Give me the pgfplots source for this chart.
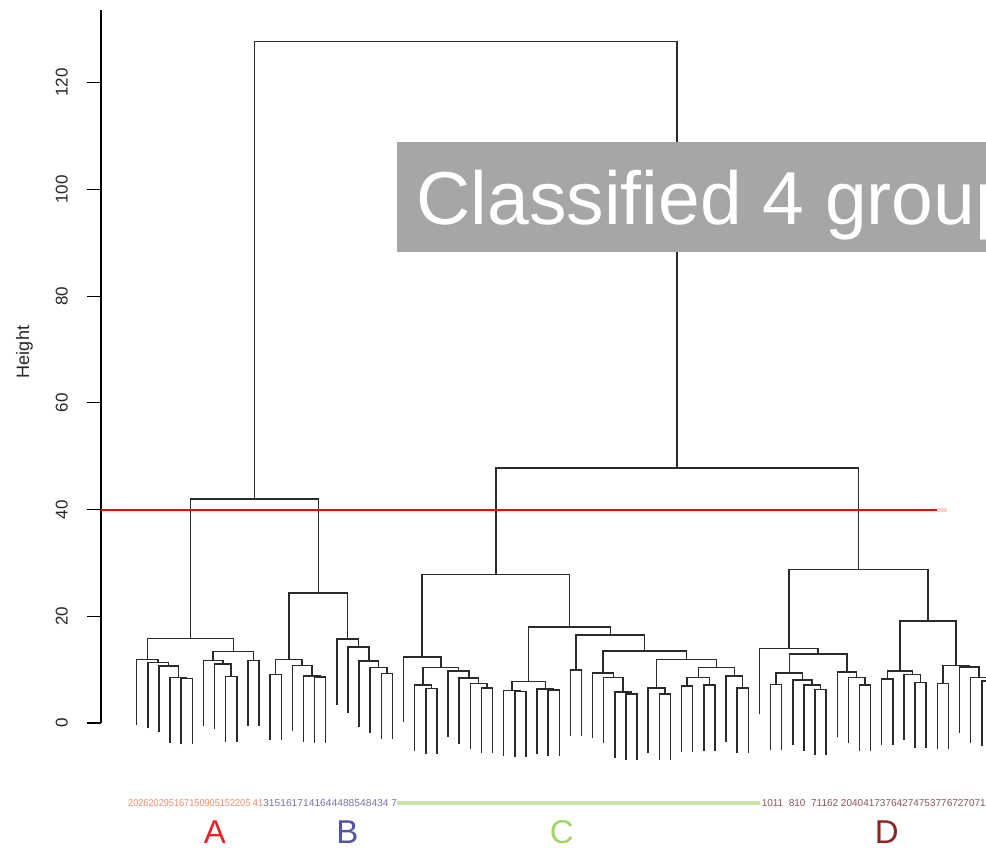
\documentclass[border=0pt]{standalone}
\usepackage{pgfplots}
\pgfplotsset{compat=1.18}
\usepackage{fontspec}
\setmainfont{Liberation Sans}
\definecolor{boxgray}{HTML}{A6A6A6}
\definecolor{dend}{HTML}{2A2A2A}
\definecolor{labA}{HTML}{F28B66}
\definecolor{labB}{HTML}{7A6FA6}
\definecolor{labC}{HTML}{B9DC8E}
\definecolor{labD}{HTML}{8A5555}
\definecolor{grpA}{HTML}{E5242B}
\definecolor{grpB}{HTML}{5552A3}
\definecolor{grpC}{HTML}{A3D36B}
\definecolor{grpD}{HTML}{8E2323}
\begin{document}
\begin{tikzpicture}
\begin{axis}[
  at={(0pt,0pt)}, anchor=origin,
  x=11.12pt, y=5.336pt,
  xmin=-2.21, xmax=77.4, ymin=0, ymax=133.6,
  axis x line=none, axis y line*=left,
  clip=false,
  unbounded coords=jump,
  ytick={0,20,40,60,80,100,120},
  tick align=outside, major tick length=14pt,
  every tick/.style={black, line width=1.2pt},
  axis line style={black, line width=1.4pt},
  /pgf/number format/assume math mode=true,
  yticklabel shift=19pt,
  yticklabel style={rotate=90, anchor=south, inner sep=0pt, font=\fontsize{17}{17}\selectfont, text=black!85},
]
% group A
\addplot[dend, line width=1.5pt] coordinates {
(5,-4.0) (5,8.3) (6,8.3) (6,-4.0) (nan,nan)
(4,-3.8) (4,8.5) (5.5,8.5) (5.5,8.3) (nan,nan)
(3,-1.6) (3,10.7) (4.75,10.7) (4.75,8.5) (nan,nan)
(2,-1.0) (2,11.3) (3.875,11.3) (3.875,10.7) (nan,nan)
(1,-0.4) (1,11.9) (2.9375,11.9) (2.9375,11.3) (nan,nan)
(9,-3.6) (9,8.7) (10,8.7) (10,-3.6) (nan,nan)
(8,-1.2) (8,11.1) (9.5,11.1) (9.5,8.7) (nan,nan)
(7,-0.6) (7,11.7) (8.75,11.7) (8.75,11.1) (nan,nan)
(11,-0.6) (11,11.7) (12,11.7) (12,-0.6) (nan,nan)
(7.875,11.7) (7.875,13.4) (11.5,13.4) (11.5,11.7) (nan,nan)
(1.96875,11.9) (1.96875,15.8) (9.6875,15.8) (9.6875,13.4)
};
% group B
\addplot[dend, line width=1.5pt] coordinates {
(13,-3.2) (13,9.1) (14,9.1) (14,-3.2) (nan,nan)
(17,-3.7) (17,8.6) (18,8.6) (18,-3.7) (nan,nan)
(16,-3.5) (16,8.8) (17.5,8.8) (17.5,8.6) (nan,nan)
(15,-1.5) (15,10.8) (16.75,10.8) (16.75,8.8) (nan,nan)
(13.5,9.1) (13.5,11.9) (15.875,11.9) (15.875,10.8) (nan,nan)
(23,-3.0) (23,9.3) (24,9.3) (24,-3.0) (nan,nan)
(22,-1.9) (22,10.4) (23.5,10.4) (23.5,9.3) (nan,nan)
(21,-0.7) (21,11.6) (22.75,11.6) (22.75,10.4) (nan,nan)
(20,1.9) (20,14.2) (21.875,14.2) (21.875,11.6) (nan,nan)
(19,3.4) (19,15.7) (20.9375,15.7) (20.9375,14.2) (nan,nan)
(14.6875,11.9) (14.6875,24.4) (19.96875,24.4) (19.96875,15.7) (nan,nan)
(5.828125,15.8) (5.828125,42.0) (17.328125,42.0) (17.328125,24.4)
};
% group C
\addplot[dend, line width=1.5pt] coordinates {
(27,-5.8) (27,6.5) (28,6.5) (28,-5.8) (nan,nan)
(26,-5.2) (26,7.1) (27.5,7.1) (27.5,6.5) (nan,nan)
(32,-5.7) (32,6.6) (33,6.6) (33,-5.7) (nan,nan)
(31,-4.9) (31,7.4) (32.5,7.4) (32.5,6.6) (nan,nan)
(30,-3.9) (30,8.4) (31.75,8.4) (31.75,7.4) (nan,nan)
(29,-2.55) (29,9.75) (30.875,9.75) (30.875,8.4) (nan,nan)
(26.75,7.1) (26.75,10.4) (29.9375,10.4) (29.9375,9.75) (nan,nan)
(25,0.1) (25,12.4) (28.34375,12.4) (28.34375,10.4) (nan,nan)
(35,-6.4) (35,5.9) (36,5.9) (36,-6.4) (nan,nan)
(34,-6.2) (34,6.1) (35.5,6.1) (35.5,5.9) (nan,nan)
(38,-6.1) (38,6.2) (39,6.2) (39,-6.1) (nan,nan)
(37,-5.9) (37,6.4) (38.5,6.4) (38.5,6.2) (nan,nan)
(34.75,6.1) (34.75,7.75) (37.75,7.75) (37.75,6.4) (nan,nan)
(40,-2.4) (40,9.9) (41,9.9) (41,-2.4) (nan,nan)
(45,-6.9) (45,5.4) (46,5.4) (46,-6.9) (nan,nan)
(44,-6.5) (44,5.8) (45.5,5.8) (45.5,5.4) (nan,nan)
(43,-3.8) (43,8.5) (44.75,8.5) (44.75,5.8) (nan,nan)
(42,-2.9) (42,9.4) (43.875,9.4) (43.875,8.5) (nan,nan)
(48,-6.9) (48,5.4) (49,5.4) (49,-6.9) (nan,nan)
(47,-5.7) (47,6.6) (48.5,6.6) (48.5,5.4) (nan,nan)
(50,-5.4) (50,6.9) (51,6.9) (51,-5.4) (nan,nan)
(52,-5.2) (52,7.1) (53,7.1) (53,-5.2) (nan,nan)
(50.5,6.9) (50.5,8.5) (52.5,8.5) (52.5,7.1) (nan,nan)
(55,-5.7) (55,6.6) (56,6.6) (56,-5.7) (nan,nan)
(54,-3.5) (54,8.8) (55.5,8.8) (55.5,6.6) (nan,nan)
(51.5,8.5) (51.5,10.4) (54.75,10.4) (54.75,8.8) (nan,nan)
(47.75,6.6) (47.75,11.9) (53.125,11.9) (53.125,10.4) (nan,nan)
(42.9375,9.4) (42.9375,13.5) (50.4375,13.5) (50.4375,11.9) (nan,nan)
(40.5,9.9) (40.5,16.5) (46.6875,16.5) (46.6875,13.5) (nan,nan)
(36.25,7.75) (36.25,18.0) (43.59375,18.0) (43.59375,16.5) (nan,nan)
(26.671875,12.4) (26.671875,27.8) (39.921875,27.8) (39.921875,18.0)
};
% group D
\addplot[dend, line width=1.5pt] coordinates {
(58,-5.05) (58,7.25) (59,7.25) (59,-5.05) (nan,nan)
(62,-6.0) (62,6.3) (63,6.3) (63,-6.0) (nan,nan)
(61,-5.2) (61,7.1) (62.5,7.1) (62.5,6.3) (nan,nan)
(60,-4.2) (60,8.1) (61.75,8.1) (61.75,7.1) (nan,nan)
(58.5,7.25) (58.5,9.4) (60.875,9.4) (60.875,8.1) (nan,nan)
(66,-5.2) (66,7.1) (67,7.1) (67,-5.2) (nan,nan)
(65,-3.8) (65,8.5) (66.5,8.5) (66.5,7.1) (nan,nan)
(64,-2.7) (64,9.6) (65.75,9.6) (65.75,8.5) (nan,nan)
(59.6875,9.4) (59.6875,12.9) (64.875,12.9) (64.875,9.6) (nan,nan)
(57,1.7) (57,14.0) (62.28125,14.0) (62.28125,12.9) (nan,nan)
(68,-4.1) (68,8.2) (69,8.2) (69,-4.1) (nan,nan)
(71,-4.7) (71,7.6) (72,7.6) (72,-4.7) (nan,nan)
(70,-3.2) (70,9.1) (71.5,9.1) (71.5,7.6) (nan,nan)
(68.5,8.2) (68.5,9.75) (70.75,9.75) (70.75,9.1) (nan,nan)
(73,-4.9) (73,7.4) (74,7.4) (74,-4.9) (nan,nan)
(77,-4.4) (77,7.9) (78,7.9) (78,-4.4) (nan,nan)
(76,-3.8) (76,8.5) (77.5,8.5) (77.5,7.9) (nan,nan)
(75,-1.8) (75,10.5) (76.75,10.5) (76.75,8.5) (nan,nan)
(73.5,7.4) (73.5,10.8) (75.875,10.8) (75.875,10.5) (nan,nan)
(69.625,9.75) (69.625,19.1) (74.6875,19.1) (74.6875,10.8) (nan,nan)
(59.640625,14.0) (59.640625,28.8) (72.15625,28.8) (72.15625,19.1)
};
% upper merges
\addplot[dend, line width=1.5pt] coordinates {
(33.296875,27.8) (33.296875,47.8) (65.8984375,47.8) (65.8984375,28.8) (nan,nan)
(11.578125,42.0) (11.578125,127.7) (49.59765625,127.7) (49.59765625,47.8)
};
% cut line
\addplot[red, line width=2pt] coordinates {(-2.21,40) (72.94,40)};
\addplot[red!30, line width=4pt, opacity=0.6] coordinates {(72.94,40) (73.9,40)};
\end{axis}
% title box
\fill[boxgray] (271.42pt,471.3pt) rectangle (900pt,581pt);
\node[anchor=base west, inner sep=0pt, text=white, font=\fontsize{75}{80}\selectfont] at (291pt,498pt) {Classified 4 groups};
% y label
\node[rotate=90, font=\fontsize{18}{18}\selectfont, text=black!85] at (-101pt,371pt) {Height};
% leaf label strip
\node[anchor=west, inner sep=0pt] at (2.42pt,-80pt) {\resizebox{135pt}{7pt}{\color{labA}202620295167150905152205 41}};
\node[anchor=west, inner sep=0pt] at (137.42pt,-80pt) {\resizebox{134pt}{7pt}{\color{labB}3151617141644488548434 7}};
\draw[labC, line width=4pt, opacity=0.8] (271.42pt,-80pt) -- (634.42pt,-80pt);
\node[anchor=west, inner sep=0pt] at (636pt,-80pt) {\resizebox{224pt}{7pt}{\color{labD}1011 \ 810 \ 71162 20404173764274753776727071}};
% group letters
\node[anchor=base, inner sep=0pt, text=grpA, font=\fontsize{33}{33}\selectfont] at (89.4pt,-121pt) {A};
\node[anchor=base, inner sep=0pt, text=grpB, font=\fontsize{33}{33}\selectfont] at (221.7pt,-121pt) {B};
\node[anchor=base, inner sep=0pt, text=grpC, font=\fontsize{33}{33}\selectfont] at (436.1pt,-121pt) {C};
\node[anchor=base, inner sep=0pt, text=grpD, font=\fontsize{33}{33}\selectfont] at (761.1pt,-121pt) {D};
\pgfresetboundingbox
\path[use as bounding box] (-125.58pt,-125pt) rectangle (860.42pt,723pt);
\end{tikzpicture}
\end{document}
